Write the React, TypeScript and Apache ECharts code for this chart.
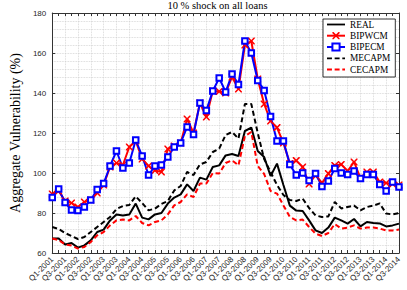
import React, { useEffect, useRef } from "react";
import * as echarts from "echarts";

const quarters: string[] = [
  "Q1-2001","Q2-2001","Q3-2001","Q4-2001","Q1-2002","Q2-2002","Q3-2002","Q4-2002",
  "Q1-2003","Q2-2003","Q3-2003","Q4-2003","Q1-2004","Q2-2004","Q3-2004","Q4-2004",
  "Q1-2005","Q2-2005","Q3-2005","Q4-2005","Q1-2006","Q2-2006","Q3-2006","Q4-2006",
  "Q1-2007","Q2-2007","Q3-2007","Q4-2007","Q1-2008","Q2-2008","Q3-2008","Q4-2008",
  "Q1-2009","Q2-2009","Q3-2009","Q4-2009","Q1-2010","Q2-2010","Q3-2010","Q4-2010",
  "Q1-2011","Q2-2011","Q3-2011","Q4-2011","Q1-2012","Q2-2012","Q3-2012","Q4-2012",
  "Q1-2013","Q2-2013","Q3-2013","Q4-2013","Q1-2014","Q2-2014","Q3-2014",
];

const real: number[] = [
  67.2, 67.2, 64.3, 65, 62.7, 63.8, 66.3, 70.5, 71.7, 76.3,
  79.3, 78.8, 79.3, 84.7, 77.7, 76.8, 79.3, 80, 84.7, 87.7,
  89.3, 94.3, 91, 97.7, 96.7, 103, 103.8, 108.8, 109.5, 108.5,
  121, 122.7, 111, 108, 98.5, 104.7, 94, 83.7, 81.2, 81,
  76.3, 71.3, 70, 72.7, 77.7, 76.3, 74.7, 77, 73.3, 75.5,
  75, 74.8, 73.3, 73.8, 74.7,
];

const bipwcm: number[] = [
  89.5, 91, 86, 85, 83, 85.5, 86.5, 90, 94, 103,
  105, 104, 113, 116, 107, 103.5, 101.3, 100.5, 112, 113.5,
  115, 127, 120, 135, 128, 141, 140.8, 140, 148, 142,
  164, 166, 147, 134.5, 126, 122.7, 115, 104.8, 106.2, 103,
  94.5, 99, 95, 99.7, 103.8, 104.3, 101, 105.5, 97.5, 100.5,
  100.5, 95.5, 95, 94.5, 94,
];

const bipecm: number[] = [
  87.7, 92, 85.2, 81.5, 81.2, 83, 86.5, 91.7, 94.7, 103.5,
  111, 102.5, 105, 116.5, 108.5, 99, 103.5, 104, 108, 113,
  115, 123, 119.3, 135, 131.3, 141, 147.5, 140.5, 149.5, 144.3,
  166, 160, 146.3, 141.3, 128.3, 116, 116, 104.2, 99, 100,
  96.3, 99.7, 93.3, 96, 102.2, 100, 99.2, 101, 97.2, 99.2,
  99.2, 94.3, 91, 95.5, 93,
];

const mecapm: number[] = [
  73, 72, 70, 68.5, 67, 68, 70.5, 73, 75.5, 78,
  82, 83.5, 84, 88.3, 85, 81.3, 82.2, 84.5, 86, 91.3,
  93.5, 100.5, 99, 104.3, 105.5, 110.5, 112.2, 119, 120.5, 117.2,
  134.5, 134.5, 120, 107, 100.5, 94, 89, 86.5, 86, 87.2,
  82.5, 78.8, 78, 78.3, 85.5, 82.3, 83, 83.7, 81.3, 83,
  83.7, 84.8, 79.7, 79.3, 80,
];

const cecapm: number[] = [
  67.2, 66.5, 64.3, 63.8, 62.2, 63, 65.5, 68.8, 70.5, 73.8,
  76.3, 76.7, 76.3, 78.5, 75, 73.8, 75.5, 76.3, 79.3, 83.8,
  85.5, 89.3, 88, 94.7, 94.7, 100, 99.7, 105, 106.3, 103.8,
  118.5, 120.5, 103.5, 99.5, 91, 89.7, 83.8, 78, 76.3, 76.7,
  73, 69.7, 68.5, 70, 74.5, 72.2, 72.7, 73.8, 72.2, 72.7,
  72.7, 72.2, 71.3, 71.3, 71.7,
];

const titleText = "10 % shock on all loans";
const yAxisName = "Aggregate Vulnerability (%)";

const X_SYMBOL =
  "path://M0,0L1.6,0L5,3.4L8.4,0L10,0L10,1.6L6.6,5L10,8.4L10,10L8.4,10L5,6.6L1.6,10L0,10L0,8.4L3.4,5L0,1.6Z";
const SOLID_ICON = "path://M0,0H20V2H0Z";
const DASH_ICON = "path://M0,0H5.5V2H0ZM8.5,0H14V2H8.5ZM17,0H20V2H17Z";

export default function App() {
  const ref = useRef<HTMLDivElement>(null);
  useEffect(() => {
    if (!ref.current) return;
    const chart = echarts.init(ref.current, null, { renderer: "svg" });
    const axisColor = "#333";
    const gridLine = { type: "dotted" as const, color: "#cfcfcf", width: 0.8 };
    const sans = "Liberation Sans";
    const serif = "Liberation Serif";
    chart.setOption({
      animation: false,
      backgroundColor: "#fff",
      grid: { left: 36, right: 8, top: 13, bottom: 37, containLabel: false },
      graphic: [
        {
          type: "text",
          x: 217.5,
          y: 5,
          style: {
            text: titleText,
            textAlign: "center",
            textVerticalAlign: "middle",
            font: `10.5px "${serif}"`,
            fill: "#000",
          },
        },
      ],
      legend: {
        orient: "vertical",
        left: 323,
        top: 19,
        itemWidth: 18,
        itemHeight: 9,
        itemGap: 2.2,
        padding: [1, 5, 3, 3],
        borderColor: "#000",
        borderWidth: 0.8,
        backgroundColor: "#fff",
        textStyle: { fontFamily: serif, fontSize: 9.3, lineHeight: 9, color: "#000" },
        data: [
          { name: "REAL", icon: SOLID_ICON },
          { name: "BIPWCM" },
          { name: "BIPECM" },
          { name: "MECAPM", icon: DASH_ICON },
          { name: "CECAPM", icon: DASH_ICON },
        ],
      },
      xAxis: [
        {
          type: "category",
          data: quarters,
          boundaryGap: false,
          axisLine: { show: true, onZero: false, lineStyle: { color: axisColor, width: 1 } },
          axisTick: { show: true, inside: true, length: 3, interval: 0, lineStyle: { color: axisColor } },
          axisLabel: {
            interval: 1,
            rotate: 45,
            fontFamily: sans,
            fontSize: 8,
            color: "#262626",
            margin: 5,
          },
          splitLine: { show: true, interval: 1, lineStyle: gridLine },
        },
        {
          type: "category",
          data: quarters,
          boundaryGap: false,
          position: "top",
          axisLine: { show: true, onZero: false, lineStyle: { color: axisColor, width: 1 } },
          axisTick: { show: true, inside: true, length: 3, interval: 0, lineStyle: { color: axisColor } },
          axisLabel: { show: false },
          splitLine: { show: false },
        },
      ],
      yAxis: [
        {
          type: "value",
          min: 60,
          max: 180,
          interval: 20,
          name: yAxisName,
          nameLocation: "middle",
          nameGap: 23,
          nameTextStyle: { fontFamily: serif, fontSize: 14, color: "#000" },
          axisLine: { show: true, onZero: false, lineStyle: { color: axisColor, width: 1 } },
          axisTick: { show: true, inside: true, length: 3, lineStyle: { color: axisColor } },
          axisLabel: { fontFamily: sans, fontSize: 8, color: "#262626", margin: 6 },
          splitLine: { show: true, lineStyle: gridLine },
          minorTick: { show: false, splitNumber: 5 },
          minorSplitLine: { show: true, lineStyle: gridLine },
        },
        {
          type: "value",
          min: 60,
          max: 180,
          interval: 20,
          position: "right",
          axisLine: { show: true, onZero: false, lineStyle: { color: axisColor, width: 1 } },
          axisTick: { show: true, inside: true, length: 3, lineStyle: { color: axisColor } },
          axisLabel: { show: false },
          splitLine: { show: false },
        },
      ],
      series: [
        {
          name: "REAL",
          type: "line",
          data: real,
          symbol: "none",
          lineStyle: { color: "#000", width: 2 },
          itemStyle: { color: "#000" },
        },
        {
          name: "BIPWCM",
          type: "line",
          data: bipwcm,
          symbol: X_SYMBOL,
          symbolSize: 7,
          showAllSymbol: true,
          lineStyle: { color: "#ff0000", width: 2 },
          itemStyle: { color: "#ff0000" },
        },
        {
          name: "BIPECM",
          type: "line",
          data: bipecm,
          symbol: "emptyRect",
          symbolSize: 5.5,
          showAllSymbol: true,
          lineStyle: { color: "#0000ff", width: 2 },
          itemStyle: { color: "#0000ff", borderColor: "#0000ff", borderWidth: 1.5 },
        },
        {
          name: "MECAPM",
          type: "line",
          data: mecapm,
          symbol: "none",
          lineStyle: { color: "#000", width: 2, type: [5, 3] },
          itemStyle: { color: "#000" },
        },
        {
          name: "CECAPM",
          type: "line",
          data: cecapm,
          symbol: "none",
          lineStyle: { color: "#ff0000", width: 2, type: [5, 3] },
          itemStyle: { color: "#ff0000" },
        },
      ],
    });
    return () => chart.dispose();
  }, []);
  return (
    <div
      ref={ref}
      style={{ position: "absolute", left: 0, top: 0, width: 407, height: 290 }}
    />
  );
}
